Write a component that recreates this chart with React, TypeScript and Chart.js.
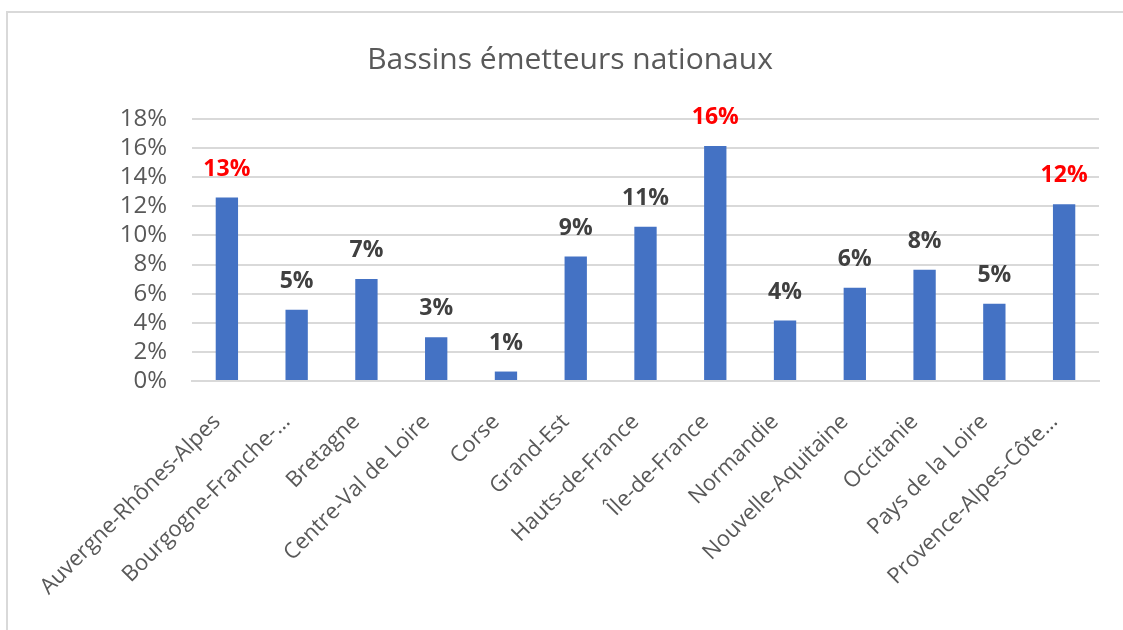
import React, { useEffect, useRef } from "react";
import { Chart, registerables } from "chart.js";

Chart.register(...registerables);

const categories = [
  "Auvergne-Rhônes-Alpes",
  "Bourgogne-Franche-…",
  "Bretagne",
  "Centre-Val de Loire",
  "Corse",
  "Grand-Est",
  "Hauts-de-France",
  "Île-de-France",
  "Normandie",
  "Nouvelle-Aquitaine",
  "Occitanie",
  "Pays de la Loire",
  "Provence-Alpes-Côte…",
];

const shares = [12.6, 4.9, 7.0, 3.0, 0.65, 8.55, 10.6, 16.15, 4.15, 6.4, 7.65, 5.3, 12.15];

const labelColors = [
  "#FF0000", "#404040", "#404040", "#404040", "#404040", "#404040", "#404040",
  "#FF0000", "#404040", "#404040", "#404040", "#404040", "#FF0000",
];

const yTicks = [0, 2, 4, 6, 8, 10, 12, 14, 16, 18];

const title = "Bassins émetteurs nationaux";

const valueLabels = {
  id: "valueLabels",
  afterDatasetsDraw(chart: any) {
    const { ctx } = chart;
    const meta = chart.getDatasetMeta(0);
    ctx.save();
    ctx.font = "bold 23px 'Open Sans'";
    ctx.textAlign = "center";
    ctx.textBaseline = "alphabetic";
    meta.data.forEach((bar: any, i: number) => {
      ctx.fillStyle = labelColors[i];
      ctx.fillText(Math.round(shares[i]) + "%", bar.x, bar.y - 22);
    });
    ctx.restore();
  },
};

const frame = {
  id: "frame",
  beforeDraw(chart: any) {
    const { ctx, width, height } = chart;
    ctx.save();
    ctx.strokeStyle = "#d9d9d9";
    ctx.lineWidth = 2;
    ctx.beginPath();
    ctx.moveTo(7, height);
    ctx.lineTo(7, 12);
    ctx.lineTo(width, 12);
    ctx.stroke();
    ctx.restore();
  },
};

export default function App() {
  const canvasRef = useRef<HTMLCanvasElement | null>(null);

  useEffect(() => {
    document.documentElement.style.overflow = "hidden";
    document.body.style.margin = "0";
    document.body.style.overflow = "hidden";
    if (!canvasRef.current) return;
    const chart = new Chart(canvasRef.current, {
      type: "bar",
      data: {
        labels: categories,
        datasets: [
          {
            data: shares,
            backgroundColor: "#4472C4",
            barPercentage: 0.32,
            categoryPercentage: 1,
          },
        ],
      },
      options: {
        responsive: false,
        animation: false,
        layout: { padding: { left: 41, right: 24, top: 0, bottom: 0 } },
        plugins: {
          legend: { display: false },
          tooltip: { enabled: false },
          title: {
            display: true,
            text: title,
            color: "#595959",
            font: { family: "'Open Sans'", size: 30, weight: "normal", lineHeight: 1.2 },
            padding: { top: 42, bottom: 41 },
          },
        },
        scales: {
          x: {
            grid: { display: false, drawTicks: false },
            border: { display: true, color: "#d9d9d9", width: 2 },
            ticks: {
              autoSkip: false,
              maxRotation: 45,
              minRotation: 45,
              padding: 28,
              labelOffset: -10,
              color: "#595959",
              font: { family: "'Open Sans'", size: 22 },
            },
            afterFit: (scale: any) => {
              scale.height = 249;
            },
          },
          y: {
            min: 0,
            max: 18,
            afterBuildTicks: (scale: any) => {
              scale.ticks = yTicks.map((v) => ({ value: v }));
            },
            grid: { color: "#d9d9d9", lineWidth: 2, drawTicks: false },
            border: { display: false },
            ticks: {
              autoSkip: false,
              padding: 25,
              color: "#595959",
              font: { family: "'Open Sans'", size: 24 },
              callback: (v: any) => v + "%",
            },
            afterFit: (scale: any) => {
              scale.width = 151;
            },
          },
        },
      },
      plugins: [valueLabels, frame],
    });
    return () => chart.destroy();
  }, []);

  return (
    <div
      style={{
        position: "fixed",
        left: 0,
        top: 0,
        width: 1123,
        height: 630,
        background: "#ffffff",
        overflow: "hidden",
      }}
    >
      <canvas
        ref={canvasRef}
        width={1123}
        height={630}
        style={{ position: "absolute", left: 0, top: 0, display: "block" }}
      />
    </div>
  );
}
